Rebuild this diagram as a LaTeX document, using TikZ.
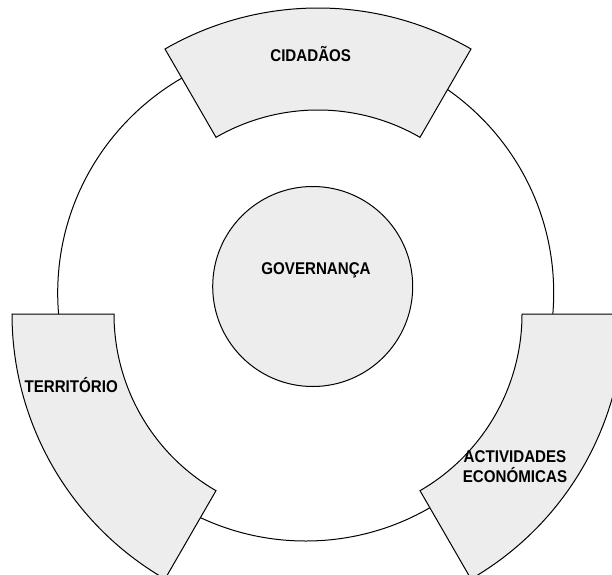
\documentclass[tikz,border=0pt]{standalone}
\usepackage{fontspec}
\setmainfont{Liberation Sans}[FakeStretch=0.89]
\definecolor{ringgray}{RGB}{237,237,237}

\begin{document}
\begin{tikzpicture}[x=1pt,y=1pt,
  sector/.style={draw=black,line width=1pt,fill=ringgray},
  ringtext/.style={font=\fontsize{17}{20}\selectfont\bfseries,align=center,inner sep=0pt}]
\useasboundingbox (0,0) rectangle (612,574);
\clip (0,0) rectangle (612,574);

% outer ring
\draw[line width=1pt] (305.7,281) circle[radius=248];

% the three ring pieces
\begin{scope}[shift={(318,260)}]
\draw[sector] (60:306) arc[start angle=60,end angle=120,radius=306] -- (120:204) arc[start angle=120,end angle=60,radius=204] -- cycle;
\draw[sector] (180:306) arc[start angle=180,end angle=240,radius=306] -- (240:204) arc[start angle=240,end angle=180,radius=204] -- cycle;
\draw[sector] (300:306) arc[start angle=300,end angle=360,radius=306] -- (360:204) arc[start angle=360,end angle=300,radius=204] -- cycle;
\end{scope}

% centre
\draw[sector] (312.7,287.5) circle[radius=100];

\node[ringtext] (cidadaos) at (310.7,519.7) {CIDADÃOS};
\node[ringtext] (governanca) at (316,303.3) {GOVERNANÇA};
\node[ringtext] (territorio) at (71.2,189) {TERRITÓRIO};
\node[ringtext] (actividades) at (515,107.3) {ACTIVIDADES\\ECONÓMICAS};
\end{tikzpicture}
\end{document}
